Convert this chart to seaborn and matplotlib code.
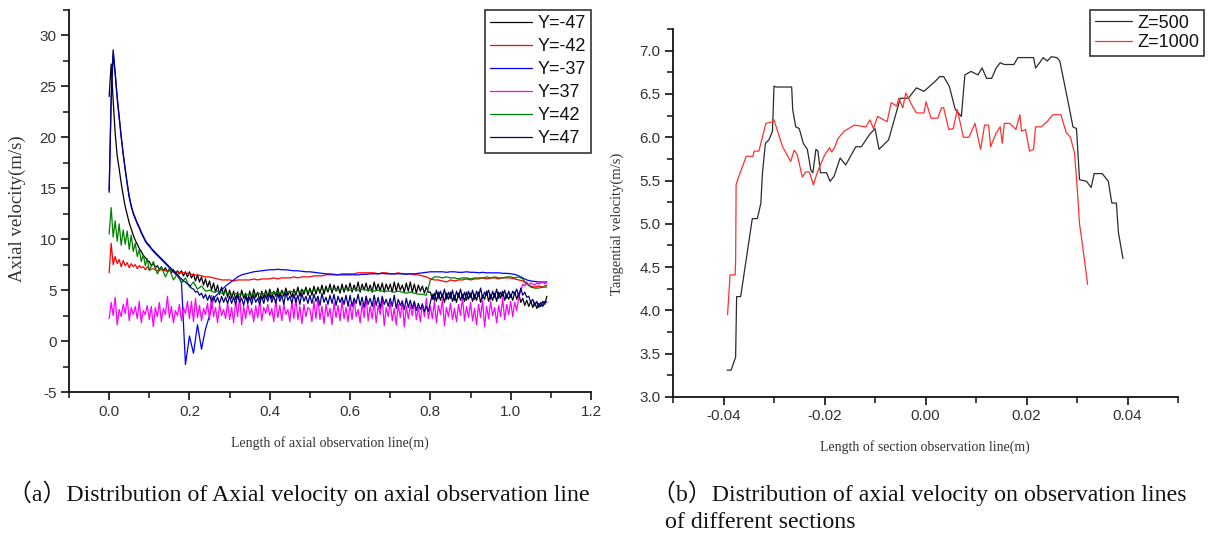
import numpy as np
import matplotlib
matplotlib.use("Agg")
import matplotlib.pyplot as plt
from matplotlib.ticker import MultipleLocator, FormatStrFormatter
import seaborn as sns

# ---- (a) axial velocity along the axial observation line ----
# coarse grid for the smoother curves, fine grid (0.005 m) for the noisy ones
x_axial = np.round(np.concatenate([np.linspace(0, 0.095, 20), np.linspace(0.10, 1.09, 100)]), 3)
x_fine = np.round(np.linspace(0, 1.09, 219), 3)

y_m47 = [24.0, 27.2, 23.6, 20.4, 18.2, 16.9, 15.5, 14.3, 13.2, 12.4, 11.6, 11.0, 10.4, 9.9, 9.5, 9.1, 8.8, 8.4, 8.2, 7.9,
         7.8, 7.4, 7.6, 7.2, 7.4, 7.0, 7.3, 6.9, 7.2, 6.8, 7.1, 6.7, 7.0, 6.6, 6.9, 6.6, 6.9, 6.4, 6.8, 6.3,
         6.8, 6.2, 6.6, 5.9, 6.5, 5.8, 6.3, 5.5, 6.1, 5.3, 5.9, 5.0, 5.7, 4.8, 5.5, 4.6, 5.3, 4.5, 5.2, 4.3,
         5.0, 4.2, 4.9, 4.1, 4.8, 4.0, 5.0, 4.2, 4.7, 3.9, 4.9, 4.1, 5.1, 4.3, 4.8, 4.0, 4.9, 4.2, 5.0, 4.3,
         5.1, 4.2, 4.9, 4.4, 5.2, 4.3, 5.0, 4.4, 5.2, 4.5, 4.9, 4.3, 5.1, 4.5, 5.3, 4.4, 5.1, 4.6, 5.3, 4.5,
         5.2, 4.5, 5.4, 4.6, 5.3, 4.7, 5.5, 4.6, 5.4, 4.8, 5.6, 4.7, 5.5, 4.9, 5.4, 4.7, 5.6, 4.8, 5.5, 4.9,
         5.7, 4.8, 5.5, 4.9, 5.8, 4.8, 5.6, 5.0, 5.7, 4.9, 5.5, 4.8, 5.8, 5.0, 5.6, 4.9, 5.7, 4.8, 5.6, 5.0,
         5.6, 4.8, 5.8, 4.9, 5.7, 5.0, 5.5, 4.8, 5.7, 4.9, 5.8, 4.8, 5.6, 4.7, 5.5, 4.9, 5.4, 4.7, 5.3, 4.8,
         4.8, 4.1, 4.7, 3.9, 4.8, 4.0, 4.6, 3.8, 4.7, 4.1, 4.8, 3.9, 4.5, 3.8, 4.7, 4.0, 4.6, 3.9, 4.8, 4.1,
         4.7, 3.9, 4.6, 4.0, 4.8, 3.8, 4.5, 4.1, 4.9, 3.9, 4.6, 4.0, 4.7, 3.9, 4.8, 4.2, 4.9, 4.0, 4.6, 4.1,
         4.6, 4.0, 4.8, 4.1, 4.7, 3.8, 4.2, 3.5, 4.0, 3.4, 3.9, 3.3, 3.8, 3.2, 3.7, 3.4, 3.9, 3.6, 4.4]

y_m42 = [6.7, 9.6, 7.5, 8.3, 7.6, 8.0, 7.3, 7.9, 7.4, 7.7, 7.2, 7.6, 7.3, 7.5, 7.1, 7.4, 7.2, 7.3, 7.0, 7.3,
         7.0, 7.1, 6.9, 7.0, 6.9, 6.9, 6.8, 6.8, 6.7, 6.7,
         6.6, 6.5, 6.5, 6.4, 6.3, 6.3, 6.2, 6.1, 6.0, 6.0,
         6.0, 5.9, 6.0, 6.0, 6.0, 6.0, 6.1, 6.0, 6.1, 6.1,
         6.1, 6.2, 6.1, 6.2, 6.2, 6.2, 6.3, 6.2, 6.3, 6.3,
         6.3, 6.4, 6.4, 6.4, 6.5, 6.5, 6.5, 6.5, 6.6, 6.6,
         6.6, 6.6, 6.7, 6.7, 6.7, 6.7, 6.7, 6.6, 6.7, 6.7,
         6.6, 6.6, 6.7, 6.6, 6.6, 6.6, 6.5, 6.5, 6.4, 6.3,
         6.1, 6.0, 6.0, 5.9, 5.8, 6.0, 5.9, 6.0, 6.0, 6.1,
         6.0, 6.1, 6.1, 6.2, 6.1, 6.2, 6.2, 6.1, 6.2, 6.2,
         6.2, 6.1, 6.0, 5.9, 5.6, 5.4, 5.3, 5.4, 5.3, 5.5]

y_m37 = [14.8, 23.5, 28.2, 26.2, 23.8, 21.9, 20.0, 18.3, 16.8, 15.4, 14.1, 13.2, 12.5, 12.0, 11.5, 11.1, 10.6, 10.2, 9.8, 9.5,
         9.3, 8.8, 8.4, 8.0, 7.6, 7.2, 6.8, 6.4, 5.8, -2.3,
         0.5, -1.2, 1.6, -0.8, 1.2, 2.5, 4.2, 4.6, 5.0, 5.4,
         5.7, 6.0, 6.3, 6.5, 6.6, 6.7, 6.8, 6.85, 6.9, 6.95,
         7.0, 7.0, 7.05, 7.0, 7.0, 6.95, 6.9, 6.9, 6.85, 6.8,
         6.8, 6.75, 6.7, 6.65, 6.6, 6.6, 6.55, 6.5, 6.5, 6.5,
         6.5, 6.5, 6.5, 6.55, 6.55, 6.6, 6.6, 6.6, 6.65, 6.6,
         6.6, 6.6, 6.6, 6.6, 6.55, 6.6, 6.6, 6.65, 6.7, 6.75,
         6.8, 6.8, 6.8, 6.8, 6.75, 6.8, 6.8, 6.75, 6.75, 6.8,
         6.75, 6.75, 6.7, 6.75, 6.7, 6.7, 6.7, 6.7, 6.65, 6.65,
         6.6, 6.55, 6.4, 6.2, 6.0, 5.9, 5.85, 5.8, 5.8, 5.8]

y_p37 = [2.2, 3.8, 2.5, 4.3, 1.6, 3.1, 2.4, 3.6, 2.7, 4.2, 2.0, 3.3, 2.6, 3.4, 2.2, 3.9, 1.8, 3.0, 2.6, 3.5,
         2.1, 3.4, 1.4, 3.3, 2.4, 3.8, 1.9, 3.2, 2.6, 4.4, 2.3, 3.4, 1.8, 3.0, 2.5, 3.6, 2.0, 3.3, 2.7, 3.9,
         2.2, 3.9, 1.9, 4.2, 2.3, 3.5, 2.0, 3.2, 2.6, 3.7, 2.1, 4.5, 2.4, 3.3, 1.8, 3.6, 2.5, 3.1, 2.2, 3.8,
         2.1, 3.3, 1.8, 3.9, 2.4, 4.4, 1.6, 3.4, 2.2, 3.7, 2.6, 3.2, 1.9, 3.5, 2.3, 4.0, 2.0, 3.3, 2.7, 3.6,
         2.5, 3.2, 1.9, 4.1, 2.3, 3.5, 2.0, 3.6, 2.6, 3.1, 1.9, 3.9, 2.2, 4.3, 2.1, 3.4, 1.7, 3.6, 2.4, 3.3,
         3.1, 1.9, 3.9, 2.2, 4.3, 2.1, 3.4, 1.7, 3.6, 2.4, 3.2, 1.6, 3.8, 2.3, 3.5, 2.0, 4.0, 2.2, 3.3, 1.9,
         3.6, 2.1, 4.2, 2.4, 3.1, 1.8, 3.7, 2.3, 4.4, 2.0, 3.4, 2.2, 3.9, 1.8, 3.5, 2.6, 4.1, 1.5, 3.3, 2.4,
         3.8, 2.0, 3.2, 1.6, 3.6, 2.3, 4.0, 1.4, 3.4, 2.2, 3.5, 2.5, 3.9, 2.1, 3.3, 1.9, 3.7, 2.4, 4.2, 2.2,
         3.4, 2.2, 3.9, 1.8, 3.5, 2.6, 4.1, 1.5, 3.3, 2.4, 3.7, 2.1, 3.2, 1.9, 3.6, 2.5, 4.3, 2.0, 3.4, 2.3,
         3.8, 2.0, 3.2, 1.6, 3.6, 2.3, 4.0, 1.4, 3.4, 2.2, 3.9, 2.5, 3.3, 1.8, 3.5, 2.4, 4.2, 2.1, 3.6, 2.6,
         3.9, 2.4, 3.8, 3.0, 4.3, 4.9, 5.6, 5.4, 5.8, 5.5, 5.7, 5.6, 5.5, 5.7, 5.6, 5.7, 5.8, 5.6, 5.8]

y_p42 = [10.5, 13.1, 10.2, 11.8, 9.8, 11.5, 9.4, 10.9, 9.5, 10.8, 9.0, 10.4, 8.8, 9.6, 8.3, 9.0, 7.8, 8.5, 7.4, 8.1,
         6.9, 7.8, 6.6, 7.3, 6.3, 7.1, 6.0, 6.6, 5.7, 6.2,
         5.3, 5.8, 5.1, 5.4, 4.9, 5.0, 4.8, 4.9, 4.7, 4.8,
         4.6, 4.7, 4.6, 4.6, 4.5, 4.6, 4.6, 4.7, 4.6, 4.7,
         4.7, 4.8, 4.7, 4.8, 4.8, 4.9, 4.8, 4.9, 4.9, 5.0,
         4.9, 5.0, 5.0, 5.1, 5.0, 5.1, 5.1, 5.0, 5.1, 5.1,
         5.0, 5.1, 5.0, 5.1, 5.0, 5.0, 4.9, 5.0, 4.9, 4.9,
         4.9, 4.8, 4.9, 4.8, 4.7, 4.8, 4.7, 4.6, 4.6, 4.5,
         6.0, 6.3, 6.3, 6.2, 6.3, 6.2, 6.2, 6.1, 6.2, 6.2,
         6.1, 6.2, 6.2, 6.2, 6.3, 6.2, 6.3, 6.2, 6.2, 6.3,
         6.3, 6.2, 6.3, 6.1, 5.6, 5.3, 5.2, 5.2, 5.3, 5.3]

y_p47 = [14.6, 24.0, 28.6, 26.4, 24.0, 22.0, 20.1, 18.4, 16.9, 15.5, 14.2, 13.3, 12.6, 12.1, 11.6, 11.2, 10.7, 10.3, 9.9, 9.6,
         9.4, 9.1, 8.9, 8.7, 8.5, 8.3, 8.1, 7.9, 7.7, 7.5, 7.3, 7.1, 6.9, 6.7, 6.5, 6.3, 6.1, 5.9, 5.8, 5.6,
         5.5, 5.2, 5.1, 4.8, 4.9, 4.5, 4.7, 4.2, 4.6, 4.0, 4.5, 3.9, 4.4, 3.8, 4.3, 3.7, 4.4, 3.8, 4.3, 3.7,
         4.4, 3.7, 4.3, 3.6, 4.5, 3.8, 4.2, 3.5, 4.4, 3.7, 4.3, 3.6, 4.5, 3.8, 4.2, 3.6, 4.4, 3.7, 4.5, 3.9,
         4.6, 3.8, 4.4, 3.7, 4.7, 3.9, 4.5, 3.6, 4.8, 4.0, 4.4, 3.7, 4.6, 3.8, 4.5, 3.6, 4.7, 3.9, 4.4, 3.7,
         4.5, 3.7, 4.6, 3.9, 4.4, 3.5, 4.7, 3.8, 4.3, 3.6, 4.5, 3.7, 4.6, 3.5, 4.4, 3.8, 4.3, 3.6, 4.5, 3.4,
         4.5, 3.4, 4.2, 3.7, 4.6, 3.5, 4.3, 3.3, 4.4, 3.6, 4.2, 3.4, 4.5, 3.5, 4.3, 3.2, 4.4, 3.6, 4.1, 3.4,
         4.2, 3.4, 4.5, 3.2, 4.1, 3.5, 3.9, 3.1, 4.2, 3.3, 4.0, 3.2, 3.9, 3.0, 3.7, 3.1, 3.6, 2.9, 3.4, 2.9,
         3.8, 4.6, 4.0, 5.0, 4.2, 4.9, 4.3, 5.1, 4.1, 4.8, 4.2, 5.0, 4.0, 4.9, 4.3, 5.1, 4.2, 4.8, 4.0, 4.9,
         4.3, 5.0, 4.1, 4.9, 4.4, 5.2, 4.2, 4.8, 4.5, 5.0, 4.1, 4.9, 4.3, 5.1, 4.2, 4.8, 4.4, 5.0, 4.2, 4.9,
         4.3, 4.9, 4.6, 5.1, 4.4, 5.2, 4.5, 4.8, 4.3, 4.4, 3.8, 4.1, 3.5, 3.9, 3.3, 3.8, 3.4, 3.9, 3.8]

axial_labels = ["Y=-47", "Y=-42", "Y=-37", "Y=37", "Y=42", "Y=47"]
axial_colors = ["#000000", "#ff0000", "#0000ff", "#ff00ff", "#008000", "#000080"]

# ---- (b) tangential velocity on section observation lines ----
z500_x = [-0.0393, -0.0385, -0.0376, -0.0374, -0.0366, -0.0343, -0.0333, -0.0326, -0.0323, -0.0317,
          -0.0310, -0.0303, -0.0300, -0.0296, -0.0265, -0.0263, -0.0257, -0.0250, -0.0242, -0.0234,
          -0.0227, -0.0223, -0.0217, -0.0213, -0.0208, -0.0196, -0.0189, -0.0181, -0.0169, -0.0158,
          -0.0138, -0.0127, -0.0111, -0.0100, -0.0092, -0.0073, -0.0061, -0.0050, -0.0034, -0.0018,
          -0.0003, 0.0020, 0.0028, 0.0036, 0.0047, 0.0059, 0.0071, 0.0078, 0.0090, 0.0104,
          0.0112, 0.0121, 0.0131, 0.0140, 0.0148, 0.0156, 0.0175, 0.0183, 0.0190, 0.0214,
          0.0218, 0.0226, 0.0233, 0.0241, 0.0249, 0.0260, 0.0266, 0.0284, 0.0292, 0.0299,
          0.0305, 0.0319, 0.0328, 0.0334, 0.0350, 0.0362, 0.0369, 0.0378, 0.0382, 0.0391]
z500_v = [3.31, 3.31, 3.46, 4.16, 4.16, 5.06, 5.06, 5.24, 5.58, 5.93,
          5.97, 6.07, 6.59, 6.58, 6.58, 6.32, 6.12, 6.10, 5.93, 5.86,
          5.62, 5.59, 5.86, 5.84, 5.59, 5.59, 5.49, 5.55, 5.76, 5.68,
          5.89, 5.89, 6.03, 6.10, 5.86, 5.97, 6.22, 6.45, 6.45, 6.57,
          6.53, 6.65, 6.70, 6.70, 6.59, 6.32, 6.24, 6.72, 6.76, 6.72,
          6.80, 6.68, 6.68, 6.80, 6.86, 6.84, 6.84, 6.92, 6.92, 6.92,
          6.80, 6.86, 6.92, 6.88, 6.93, 6.92, 6.88, 6.36, 6.12, 6.10,
          5.51, 5.49, 5.42, 5.58, 5.58, 5.49, 5.24, 5.24, 4.90, 4.60]

z1000_x = [-0.0392, -0.0387, -0.0377, -0.0376, -0.0375, -0.0372, -0.0355, -0.0342, -0.0339, -0.0330,
           -0.0316, -0.0303, -0.0300, -0.0283, -0.0267, -0.0260, -0.0254, -0.0244, -0.0237, -0.0230,
           -0.0222, -0.0214, -0.0200, -0.0190, -0.0186, -0.0180, -0.0174, -0.0161, -0.0141, -0.0118,
           -0.0110, -0.0103, -0.0095, -0.0076, -0.0068, -0.0057, -0.0053, -0.0045, -0.0039, -0.0026,
           -0.0018, -0.0003, 0.0001, 0.0011, 0.0024, 0.0032, 0.0036, 0.0046, 0.0055, 0.0063,
           0.0075, 0.0086, 0.0098, 0.0109, 0.0117, 0.0125, 0.0129, 0.0140, 0.0148, 0.0152,
           0.0156, 0.0167, 0.0179, 0.0187, 0.0190, 0.0198, 0.0206, 0.0214, 0.0218, 0.0229,
           0.0241, 0.0252, 0.0268, 0.0279, 0.0287, 0.0295, 0.0300, 0.0305, 0.0311, 0.0321]
z1000_v = [3.95, 4.41, 4.41, 4.57, 5.45, 5.51, 5.78, 5.78, 5.84, 5.84,
           6.16, 6.18, 6.20, 5.89, 5.72, 5.85, 5.80, 5.54, 5.60, 5.60,
           5.45, 5.60, 5.79, 5.88, 5.83, 5.88, 5.98, 6.07, 6.14, 6.12,
           6.20, 6.10, 6.24, 6.18, 6.40, 6.36, 6.45, 6.34, 6.51, 6.36,
           6.28, 6.28, 6.41, 6.22, 6.22, 6.34, 6.34, 6.09, 6.10, 6.32,
           6.00, 6.00, 6.16, 5.86, 6.14, 6.14, 5.89, 6.05, 6.12, 5.93,
           6.16, 6.16, 6.09, 6.26, 6.07, 6.09, 5.84, 5.86, 6.12, 6.12,
           6.18, 6.26, 6.26, 6.05, 6.00, 5.82, 5.45, 5.00, 4.75, 4.30]

section_labels = ["Z=500", "Z=1000"]
section_colors = ["#2b2b2b", "#ff3030"]

sns.set_style("ticks")
plt.rcParams["font.family"] = ["Liberation Sans", "DejaVu Sans"]
plt.rcParams["axes.unicode_minus"] = False

W, H = 1211, 536
fig = plt.figure(figsize=(W / 100, H / 100), dpi=100)
ax1 = fig.add_axes([69 / W, 1 - 392 / H, (591 - 69) / W, (392 - 10) / H])
ax2 = fig.add_axes([673 / W, 1 - 397 / H, (1178 - 673) / W, (397 - 29) / H])

axial_x = [x_fine, x_axial, x_axial, x_fine, x_axial, x_fine]
axial_y = [y_m47, y_m42, y_m37, y_p37, y_p42, y_p47]
for xs, ys, lab, col in zip(axial_x, axial_y, axial_labels, axial_colors):
    sns.lineplot(x=xs, y=ys, ax=ax1, color=col, label=lab, lw=0.9,
                 estimator=None, sort=False)

for xs, ys, lab, col in zip([z500_x, z1000_x], [z500_v, z1000_v], section_labels, section_colors):
    sns.lineplot(x=xs, y=ys, ax=ax2, color=col, label=lab, lw=0.9,
                 estimator=None, sort=False)

ax1.set_xlim(-0.1, 1.2)
ax1.set_ylim(-5, 32.5)
ax1.xaxis.set_major_locator(MultipleLocator(0.2))
ax1.xaxis.set_minor_locator(MultipleLocator(0.1))
ax1.yaxis.set_major_locator(MultipleLocator(5))
ax1.yaxis.set_minor_locator(MultipleLocator(2.5))
ax1.xaxis.set_major_formatter(FormatStrFormatter("%.1f"))

ax2.set_xlim(-0.05, 0.05)
ax2.set_ylim(3.0, 7.25)
ax2.xaxis.set_major_locator(MultipleLocator(0.02))
ax2.xaxis.set_minor_locator(MultipleLocator(0.01))
ax2.yaxis.set_major_locator(MultipleLocator(0.5))
ax2.yaxis.set_minor_locator(MultipleLocator(0.25))
ax2.xaxis.set_major_formatter(FormatStrFormatter("%.2f"))
ax2.yaxis.set_major_formatter(FormatStrFormatter("%.1f"))

for ax in (ax1, ax2):
    sns.despine(ax=ax)
    for s in ("left", "bottom"):
        ax.spines[s].set_linewidth(1.3)
        ax.spines[s].set_color("#111111")
    ax.tick_params(which="major", direction="out", length=6, width=1.2, labelsize=11,
                   labelcolor="#333333", color="#111111", pad=3)
    ax.tick_params(which="minor", direction="out", length=4, width=1.1, color="#111111")
    ax.set_xlabel("")
    ax.set_ylabel("")

leg1 = ax1.legend(loc="upper left", bbox_to_anchor=(485 / W, 1 - 10 / H), bbox_transform=fig.transFigure,
                  fontsize=13, frameon=True, fancybox=False, handlelength=2.3, handletextpad=0.3,
                  labelspacing=0.33, borderpad=0.3, borderaxespad=0)
leg2 = ax2.legend(loc="upper left", bbox_to_anchor=(1090 / W, 1 - 10 / H), bbox_transform=fig.transFigure,
                  fontsize=13, frameon=True, fancybox=False, handlelength=2.1, handletextpad=0.3,
                  labelspacing=0.15, borderpad=0.25, borderaxespad=0)
for leg in (leg1, leg2):
    fr = leg.get_frame()
    fr.set_edgecolor("#333333")
    fr.set_linewidth(1.2)
    fr.set_alpha(1)
    for t in leg.get_texts():
        t.set_color("#111111")

serif = ["Liberation Serif", "DejaVu Serif"]
fig.text(330 / W, 1 - 443 / H, "Length of axial observation line(m)", ha="center", va="center",
         fontsize=10, family=serif, color="#333333")
fig.text(925 / W, 1 - 447 / H, "Length of section observation line(m)", ha="center", va="center",
         fontsize=10, family=serif, color="#333333")
fig.text(17 / W, 1 - 209 / H, "Axial velocity(m/s)", ha="center", va="center", rotation=90,
         fontsize=13.5, family=serif, color="#333333")
fig.text(617 / W, 1 - 224 / H, "Tangential velocity(m/s)", ha="center", va="center", rotation=90,
         fontsize=10.5, family=serif, color="#333333")

cap = ["Liberation Serif", "Noto Sans CJK SC"]
fig.text(8 / W, 1 - 493 / H, "（a）Distribution of Axial velocity on axial observation line",
         ha="left", va="center", fontsize=17.2, family=cap, color="#111111")
fig.text(652 / W, 1 - 493 / H, "（b）Distribution of axial velocity on observation lines",
         ha="left", va="center", fontsize=17.2, family=cap, color="#111111")
fig.text(665 / W, 1 - 523 / H, "of different sections",
         ha="left", va="center", fontsize=17.2, family=cap, color="#111111")

fig.savefig("out.png", dpi=100)
